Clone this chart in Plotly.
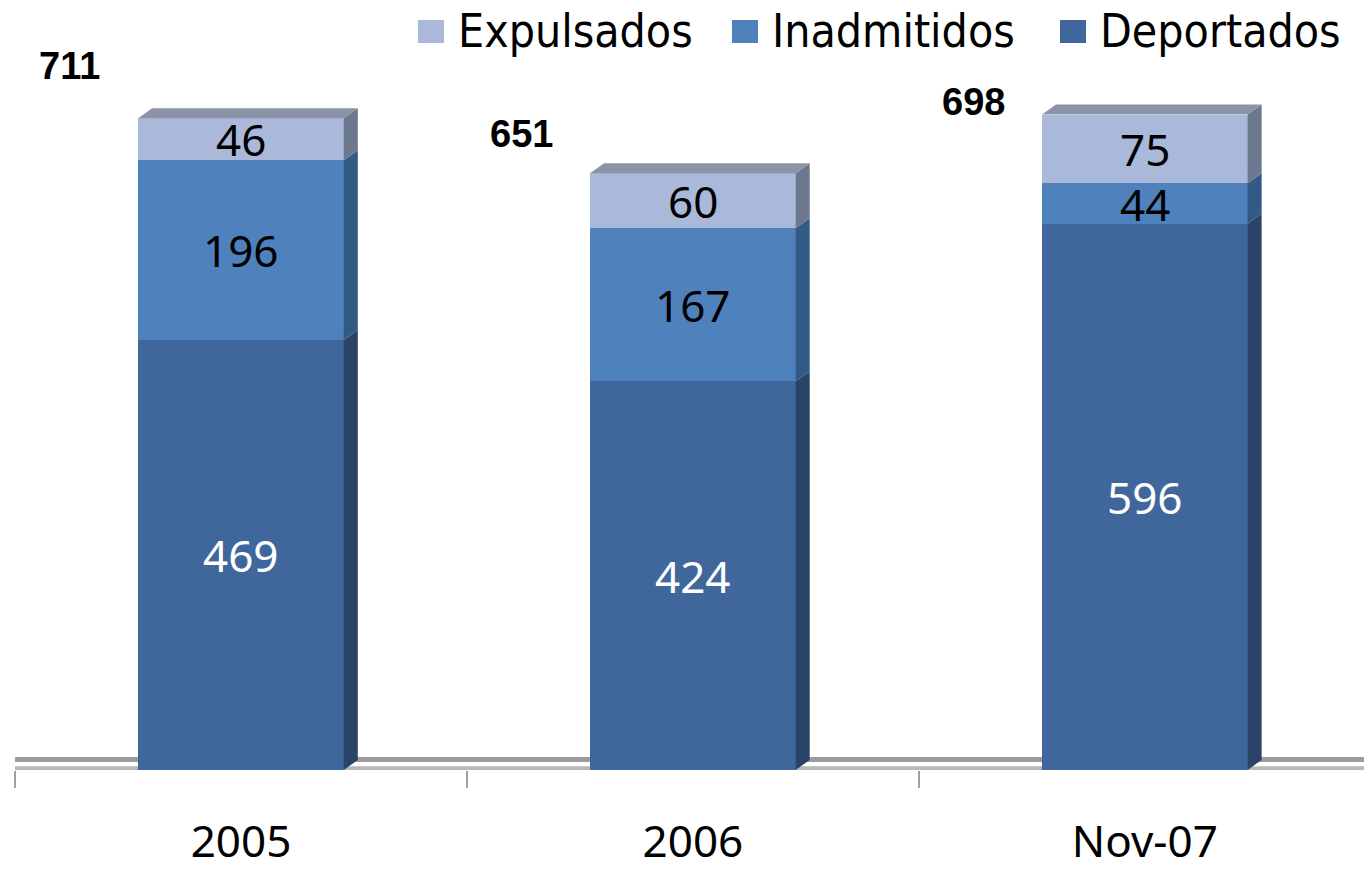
import plotly.graph_objects as go

# Categories and stacked values
categories = ["2005", "2006", "Nov-07"]
deportados = [469, 424, 596]
inadmitidos = [196, 167, 44]
expulsados = [46, 60, 75]
totals = [711, 651, 698]

# Styling
front_colors = {"Deportados": "#3f679c", "Inadmitidos": "#4f81bd", "Expulsados": "#aab9d9"}
side_colors = {"Deportados": "#2a4467", "Inadmitidos": "#335985", "Expulsados": "#6c788e"}
top_color = "#8a93a7"
label_colors = {"Deportados": "white", "Inadmitidos": "black", "Expulsados": "black"}
total_yshift = [52, 39, 13]

BAR_W = 0.455
Y_MAX = 840
DX = 0.031   # depth offset along x (category units)
DY = 11      # depth offset along y (value units)

W, H = 1364, 869
M_L, M_B = 15, 99
PLOT_W, PLOT_H = W - M_L, H - M_B

NUM_FONT = "Noto Sans, Open Sans, sans-serif"
LEGEND_FONT = "DejaVu Sans Condensed, Liberation Sans Narrow, DejaVu Sans, sans-serif"

series = [("Deportados", deportados), ("Inadmitidos", inadmitidos), ("Expulsados", expulsados)]


def px_to_xpaper(px):
    return (px - M_L) / PLOT_W


def py_to_ypaper(py):
    return (PLOT_H - py) / PLOT_H


fig = go.Figure()
for name, vals in series:
    fig.add_trace(go.Bar(
        x=categories, y=vals, name=name, width=BAR_W,
        marker=dict(color=front_colors[name], line=dict(width=0)),
        hoverinfo="x+y+name", showlegend=False,
    ))

shapes = []
annotations = []

# Floor of the 3D plane
shapes.append(dict(type="rect", xref="paper", yref="y", x0=0, x1=1, y0=8.7, y1=14.2,
                   fillcolor="#9c9c9c", line=dict(width=0), layer="below"))
shapes.append(dict(type="rect", xref="paper", yref="y", x0=0, x1=1, y0=0, y1=4,
                   fillcolor="#b8b8b8", line=dict(width=0), layer="below"))

# Depth faces and segment labels
for i, cat in enumerate(categories):
    xl = i - BAR_W / 2
    xr = i + BAR_W / 2
    base = 0
    for name, vals in series:
        v = vals[i]
        y0, y1 = base, base + v
        side = (f"M{xr},{y0} L{xr + DX},{y0 + DY} L{xr + DX},{y1 + DY} L{xr},{y1} Z")
        shapes.append(dict(type="path", path=side, xref="x", yref="y",
                           fillcolor=side_colors[name], line=dict(width=0), layer="above"))
        annotations.append(dict(x=i, y=(y0 + y1) / 2, xref="x", yref="y", text=str(v),
                                showarrow=False, yanchor="middle",
                                font=dict(family=NUM_FONT, size=44, color=label_colors[name])))
        base = y1
    top = (f"M{xl},{base} L{xl + DX},{base + DY} L{xr + DX},{base + DY} L{xr},{base} Z")
    shapes.append(dict(type="path", path=top, xref="x", yref="y",
                       fillcolor=top_color, line=dict(width=0), layer="above"))
    annotations.append(dict(x=i - 0.38, y=base, xref="x", yref="y", text=f"<b>{totals[i]}</b>",
                            showarrow=False, yanchor="middle", yshift=total_yshift[i],
                            font=dict(family="Liberation Sans, Arial, sans-serif", size=38,
                                      color="black")))

# Legend drawn as swatches with text, in the top-right corner
legend_order = ["Expulsados", "Inadmitidos", "Deportados"]
swatch_left_px = [418, 732, 1060]
SW_W, SW_TOP, SW_BOT = 26, 20, 43
for name, sx in zip(legend_order, swatch_left_px):
    shapes.append(dict(type="rect", xref="paper", yref="paper",
                       x0=px_to_xpaper(sx), x1=px_to_xpaper(sx + SW_W),
                       y0=py_to_ypaper(SW_BOT), y1=py_to_ypaper(SW_TOP),
                       fillcolor=front_colors[name], line=dict(width=0), layer="above"))
    annotations.append(dict(x=px_to_xpaper(sx + SW_W + 12), y=py_to_ypaper(31),
                            xref="paper", yref="paper", xanchor="left", yanchor="middle",
                            text=name, showarrow=False,
                            font=dict(family=LEGEND_FONT, size=46, color="black")))

fig.update_layout(
    barmode="stack",
    width=W, height=H,
    margin=dict(l=M_L, r=0, t=0, b=M_B, autoexpand=False),
    paper_bgcolor="white", plot_bgcolor="white",
    shapes=shapes, annotations=annotations,
    showlegend=False,
    xaxis=dict(type="category", range=[-0.5, 2.485], tickson="boundaries",
               ticks="outside", ticklen=17, tickcolor="#a0a0a0", tickwidth=2,
               showline=False, showgrid=False, zeroline=False,
               ticklabelstandoff=42, automargin=False,
               tickfont=dict(family=NUM_FONT, size=44, color="black")),
    yaxis=dict(range=[0, Y_MAX], visible=False, showgrid=False, zeroline=False),
)

fig.write_html("out.html")
